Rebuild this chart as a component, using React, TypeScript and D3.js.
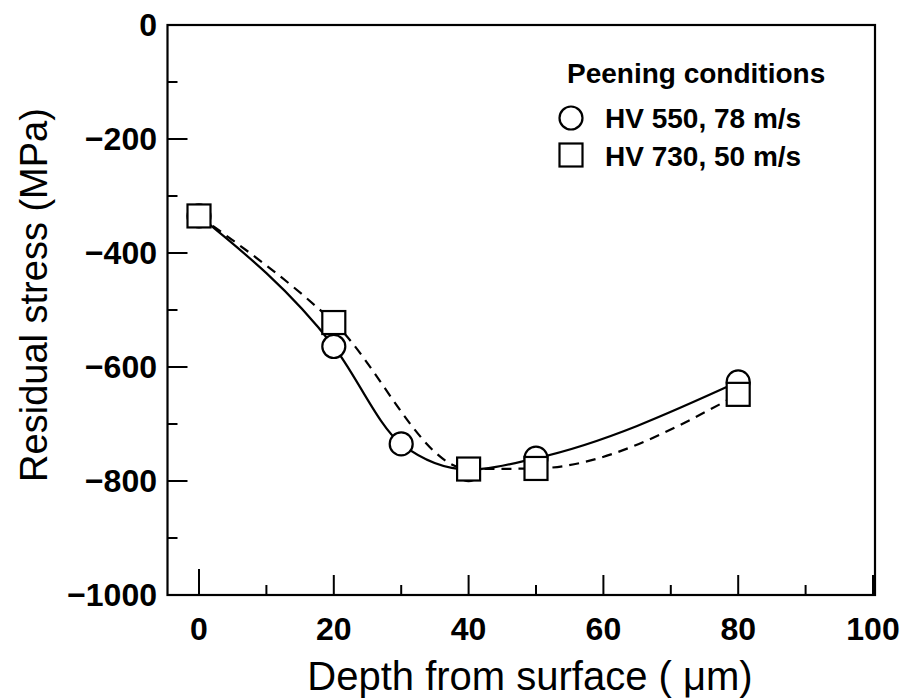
import React from "react";
import * as d3 from "d3";

const depthA = [0, 20, 30, 40, 50, 80];
const stressA = [-335, -564, -735, -780, -760, -626];
const depthB = [0, 20, 40, 50, 80];
const stressB = [-335, -522, -779, -778, -648];
const xTicks = [0, 20, 40, 60, 80, 100];
const xMinor = [10, 30, 50, 70, 90];
const yTicks = [0, -200, -400, -600, -800, -1000];
const yMinor = [-100, -300, -500, -700, -900];
const legendTitle = "Peening conditions";
const legendLabels = ["HV 550, 78 m/s", "HV 730, 50 m/s"];

const W = 902;
const H = 698;
const font = "'Liberation Sans', Arial, sans-serif";

const App = () => {
  const x = d3.scaleLinear().domain([0, 100]).range([199, 873]);
  const y = d3.scaleLinear().domain([0, -1000]).range([25, 595]);
  const left = 167.5;
  const right = 875;
  const top = 25;
  const bottom = 595;

  const line = d3
    .line<[number, number]>()
    .x((d) => x(d[0]))
    .y((d) => y(d[1]))
    .curve(d3.curveMonotoneX);

  const ptsA = depthA.map((d, i) => [d, stressA[i]] as [number, number]);
  const ptsB = depthB.map((d, i) => [d, stressB[i]] as [number, number]);
  const sq = 23;
  const r = 11.5;

  return (
    <svg
      width={W}
      height={H}
      style={{ position: "absolute", left: 0, top: 0, background: "#fff" }}
      fontFamily={font}
    >
      <rect x={0} y={0} width={W} height={H} fill="#fff" />
      {/* ticks */}
      {yTicks.map((t) => (
        <line key={"ym" + t} x1={left} x2={left + 20} y1={y(t)} y2={y(t)} stroke="#000" strokeWidth={2} />
      ))}
      {yMinor.map((t) => (
        <line key={"yn" + t} x1={left} x2={left + 10} y1={y(t)} y2={y(t)} stroke="#000" strokeWidth={2} />
      ))}
      {xTicks.map((t) => (
        <line key={"xm" + t} x1={x(t)} x2={x(t)} y1={bottom} y2={bottom - (t === 0 ? 26 : 20)} stroke="#000" strokeWidth={2} />
      ))}
      {xMinor.map((t) => (
        <line key={"xn" + t} x1={x(t)} x2={x(t)} y1={bottom} y2={bottom - 10} stroke="#000" strokeWidth={2} />
      ))}
      <rect x={left} y={top} width={right - left} height={bottom - top} fill="none" stroke="#000" strokeWidth={2.2} />

      {/* tick labels */}
      {yTicks.map((t) => (
        <text key={"yl" + t} x={157} y={y(t) + 11} textAnchor="end" fontSize={32} fontWeight="bold">
          {t === 0 ? "0" : "\u2212" + Math.abs(t)}
        </text>
      ))}
      {xTicks.map((t) => (
        <text key={"xl" + t} x={x(t)} y={640} textAnchor="middle" fontSize={32} fontWeight="bold">
          {t}
        </text>
      ))}

      {/* axis titles */}
      <text x={530} y={690} textAnchor="middle" fontSize={40}>
        Depth from surface ( μm)
      </text>
      <text transform="translate(47,295) rotate(-90)" textAnchor="middle" fontSize={38}>
        Residual stress (MPa)
      </text>

      {/* curves */}
      <path d={line(ptsA) || ""} fill="none" stroke="#000" strokeWidth={2.2} />
      <path d={line(ptsB) || ""} fill="none" stroke="#000" strokeWidth={2.2} strokeDasharray="10 7" />

      {ptsA.map((p, i) => (
        <circle key={"c" + i} cx={x(p[0])} cy={y(p[1])} r={r} fill="#fff" stroke="#000" strokeWidth={2.2} />
      ))}
      {ptsB.map((p, i) => (
        <rect key={"s" + i} x={x(p[0]) - sq / 2} y={y(p[1]) - sq / 2} width={sq} height={sq} fill="#fff" stroke="#000" strokeWidth={2.2} />
      ))}

      {/* legend */}
      <text x={567} y={83} fontSize={28} fontWeight="bold">
        {legendTitle}
      </text>
      <circle cx={571} cy={118} r={r} fill="#fff" stroke="#000" strokeWidth={2.2} />
      <text x={605} y={128} fontSize={28} fontWeight="bold">
        {legendLabels[0]}
      </text>
      <rect x={571 - sq / 2} y={155 - sq / 2} width={sq} height={sq} fill="#fff" stroke="#000" strokeWidth={2.2} />
      <text x={605} y={166} fontSize={28} fontWeight="bold">
        {legendLabels[1]}
      </text>
    </svg>
  );
};

export default App;
